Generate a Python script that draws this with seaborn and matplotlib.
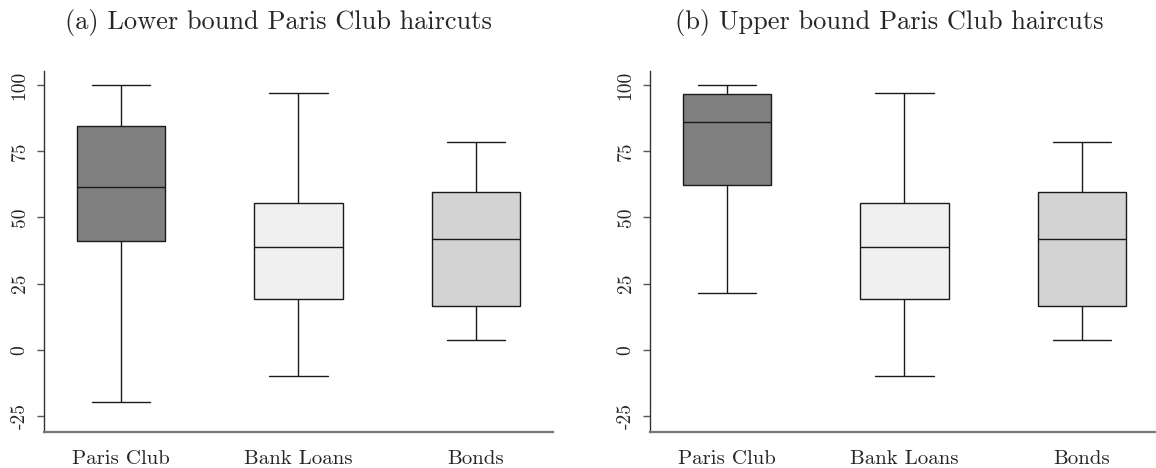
import numpy as np
import pandas as pd
import matplotlib
matplotlib.use("Agg")
import matplotlib.pyplot as plt
import seaborn as sns

# five-number summaries: min, q1, median, q3, max
categories = ["Paris Club", "Bank Loans", "Bonds"]
lower_paris = [-19.5, 41.0, 61.4, 84.4, 100.0]
upper_paris = [21.4, 62.3, 85.9, 96.7, 100.0]
bank_loans = [-9.8, 19.2, 39.0, 55.6, 96.9]
bonds = [3.9, 16.6, 41.8, 59.6, 78.6]

titles = ["(a) Lower bound Paris Club haircuts", "(b) Upper bound Paris Club haircuts"]
yticks = [-25, 0, 25, 50, 75, 100]
ytick_labels = ["-25", "0", "25", "50", "75", "100"]
box_colors = {"Paris Club": "#808080", "Bank Loans": "#f0f0f0", "Bonds": "#d3d3d3"}


def long_frame(paris):
    rows = []
    for cat, vals in zip(categories, [paris, bank_loans, bonds]):
        for v in vals:
            rows.append({"type": cat, "haircut": v})
    return pd.DataFrame(rows)


sns.set_style("ticks")
plt.rcParams["font.family"] = ["cmr10", "DejaVu Serif"]
plt.rcParams["axes.unicode_minus"] = False

fig = plt.figure(figsize=(11.56, 4.68), dpi=100)
W, H = 1156.0, 468.0
axes = [fig.add_axes([44 / W, 1 - 432 / H, 509 / W, 361 / H]),
        fig.add_axes([650 / W, 1 - 432 / H, 509 / W, 361 / H])]
title_x = [65, 675]

for ax, paris, title, tx in zip(axes, [lower_paris, upper_paris], titles, title_x):
    df = long_frame(paris)
    sns.boxplot(data=df, x="type", y="haircut", hue="type", palette=box_colors,
                order=categories, hue_order=categories, legend=False,
                whis=(0, 100), width=0.5, capwidths=0.33,
                linecolor="#1a1a1a", linewidth=1.0, ax=ax)
    ax.set_xlim(-0.435, 2.435)
    ax.set_ylim(-31, 105.3)
    ax.set_yticks(yticks, labels=ytick_labels)
    ax.set_xlabel("")
    ax.set_ylabel("")
    for s in ["top", "right"]:
        ax.spines[s].set_visible(False)
    ax.spines["left"].set_color("#333333")
    ax.spines["left"].set_linewidth(1.0)
    ax.spines["bottom"].set_color("#777777")
    ax.spines["bottom"].set_linewidth(1.6)
    ax.tick_params(axis="x", length=0, pad=13, labelsize=15)
    ax.tick_params(axis="y", length=5, width=1.0, color="#555555", pad=6, labelsize=14)
    for lab in ax.get_yticklabels():
        lab.set_rotation(90)
        lab.set_va("center")
    fig.text(tx / W, 1 - 29 / H, title, ha="left", va="baseline", fontsize=19)

fig.savefig("out.png", dpi=100)
